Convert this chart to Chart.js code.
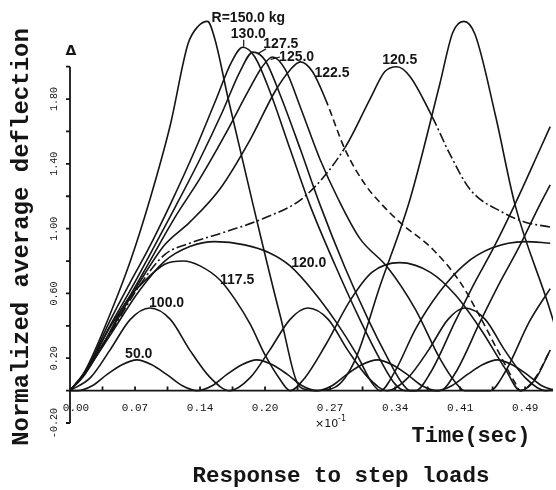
<!DOCTYPE html>
<html>
<head>
<meta charset="utf-8">
<script src="https://cdn.jsdelivr.net/npm/chart.js@4.4.1/dist/chart.umd.min.js"></script>
<style>
  html, body { margin: 0; padding: 0; background: #fff; }
  canvas { display: block; }
</style>
</head>
<body>
<canvas id="myChart" width="556" height="490" style="width:556px;height:490px"></canvas>
<script>
// [time (x10^-1 sec), normalized average deflection]
const r150 = [[0,0],[0.016,0.12],[0.043,0.47],[0.065,0.80],[0.086,1.18],[0.108,1.64],[0.127,2.14],[0.138,2.25],[0.148,2.28],[0.156,2.17],[0.170,1.81],[0.197,1.15],[0.226,0.47],[0.248,0.02],[0.264,0],[0.285,0.02],[0.307,0.19],[0.334,0.65],[0.366,1.18],[0.398,1.89],[0.412,2.21],[0.424,2.28],[0.436,2.20],[0.458,1.70],[0.479,1.15],[0.515,0.53],[0.523,0.38]];
const r130 = [[0,0],[0.016,0.11],[0.043,0.43],[0.065,0.67],[0.084,0.87],[0.108,1.15],[0.135,1.49],[0.156,1.78],[0.174,2.03],[0.186,2.12],[0.199,2.06],[0.215,1.85],[0.237,1.49],[0.258,1.15],[0.285,0.78],[0.312,0.44],[0.334,0.19],[0.350,0.04],[0.361,0],[0.372,0],[0.388,0.11],[0.415,0.43],[0.436,0.67],[0.455,0.87],[0.479,1.15],[0.506,1.49],[0.517,1.63]];
const r127 = [[0,0],[0.016,0.11],[0.043,0.40],[0.065,0.62],[0.086,0.84],[0.113,1.13],[0.140,1.43],[0.164,1.72],[0.183,1.97],[0.197,2.09],[0.210,2.04],[0.226,1.83],[0.248,1.49],[0.269,1.15],[0.296,0.76],[0.321,0.44],[0.342,0.20],[0.357,0.05],[0.366,0],[0.398,0],[0.415,0.11],[0.442,0.43],[0.463,0.67],[0.482,0.87],[0.506,1.15],[0.517,1.27]];
const r125 = [[0,0],[0.016,0.11],[0.043,0.39],[0.065,0.59],[0.086,0.80],[0.113,1.07],[0.140,1.31],[0.167,1.58],[0.192,1.85],[0.207,2.00],[0.218,2.06],[0.232,1.98],[0.248,1.75],[0.269,1.43],[0.289,1.18],[0.312,0.94],[0.342,0.76],[0.372,0.50],[0.398,0.20],[0.415,0.05],[0.425,0],[0.452,0],[0.468,0.11],[0.495,0.43],[0.517,0.63]];
const r122 = [[0,0],[0.016,0.11],[0.043,0.36],[0.075,0.67],[0.102,0.90],[0.129,1.04],[0.162,1.25],[0.194,1.55],[0.221,1.85],[0.237,1.98],[0.248,2.03],[0.261,1.97],[0.275,1.80],[0.296,1.49],[0.318,1.27],[0.334,1.16],[0.355,1.04],[0.391,0.87],[0.420,0.67],[0.442,0.45],[0.463,0.22],[0.479,0.05],[0.485,0],[0.501,0.08],[0.517,0.25]];
const r1205 = [[0,0],[0.016,0.11],[0.043,0.35],[0.075,0.65],[0.102,0.84],[0.129,0.91],[0.167,0.98],[0.207,1.06],[0.253,1.20],[0.296,1.50],[0.323,1.80],[0.339,1.97],[0.352,2.00],[0.366,1.94],[0.390,1.69],[0.409,1.46],[0.431,1.24],[0.466,1.10],[0.490,1.04],[0.517,1.01]];
const r120 = [[0,0],[0.016,0.11],[0.043,0.34],[0.075,0.62],[0.102,0.80],[0.129,0.89],[0.156,0.92],[0.188,0.90],[0.215,0.85],[0.237,0.77],[0.261,0.62],[0.287,0.42],[0.308,0.23],[0.326,0.04],[0.334,0],[0.350,0.12],[0.372,0.38],[0.398,0.61],[0.425,0.78],[0.454,0.88],[0.490,0.92],[0.517,0.91]];
const r117 = [[0,0],[0.016,0.10],[0.038,0.31],[0.062,0.56],[0.079,0.67],[0.102,0.78],[0.122,0.80],[0.140,0.77],[0.162,0.68],[0.178,0.56],[0.194,0.41],[0.210,0.22],[0.226,0.07],[0.237,0],[0.253,0.08],[0.275,0.28],[0.302,0.56],[0.325,0.73],[0.355,0.79],[0.388,0.73],[0.415,0.59],[0.442,0.38],[0.468,0.14],[0.485,0],[0.501,0.07],[0.517,0.25]];
const r100 = [[0,0],[0.022,0.08],[0.043,0.25],[0.065,0.44],[0.086,0.51],[0.108,0.44],[0.129,0.25],[0.151,0.08],[0.172,0],[0.194,0.08],[0.215,0.25],[0.237,0.44],[0.256,0.51],[0.278,0.44],[0.299,0.25],[0.321,0.08],[0.342,0],[0.364,0.08],[0.386,0.25],[0.407,0.44],[0.425,0.51],[0.447,0.44],[0.468,0.25],[0.490,0.08],[0.512,0],[0.523,0.01]];
const r50 = [[0,0],[0.008,0],[0.024,0.03],[0.040,0.10],[0.056,0.16],[0.072,0.19],[0.088,0.16],[0.104,0.10],[0.121,0.03],[0.137,0],[0.153,0.03],[0.169,0.10],[0.185,0.16],[0.201,0.19],[0.218,0.16],[0.234,0.10],[0.250,0.03],[0.266,0],[0.282,0.03],[0.298,0.10],[0.314,0.16],[0.331,0.19],[0.347,0.16],[0.363,0.10],[0.379,0.03],[0.395,0],[0.411,0.03],[0.428,0.10],[0.444,0.16],[0.460,0.19],[0.476,0.16],[0.492,0.10],[0.508,0.03],[0.523,0]];

// curve labels: text, time, deflection
const curveLabels = [
  ['R=150.0 kg', 0.192, 2.30],
  ['130.0', 0.192, 2.20],
  ['127.5', 0.227, 2.14],
  ['125.0', 0.244, 2.06],
  ['122.5', 0.282, 1.96],
  ['120.5', 0.355, 2.04],
  ['117.5', 0.180, 0.685],
  ['120.0', 0.257, 0.79],
  ['100.0', 0.104, 0.543],
  ['50.0', 0.074, 0.228]
];
// small leader strokes next to the labels
const leaders = [
  [0.187, 2.167, 0.187, 2.123],
  [0.211, 2.11, 0.202, 2.08],
  [0.216, 2.045, 0.226, 2.06]
];

const xTickVals = [0,0.035,0.07,0.105,0.14,0.175,0.21,0.245,0.28,0.315,0.35,0.385,0.42,0.455,0.49];
const xLabelVals = [0,0.07,0.14,0.21,0.28,0.35,0.42,0.49];
const xLabels = ['0.00','0.07','0.14','0.20','0.27','0.34','0.41','0.49'];
const yTickVals = [-0.2,0,0.2,0.4,0.6,0.8,1.0,1.2,1.4,1.6,1.8,2.0];
const yLabelVals = [-0.2,0.2,0.6,1.0,1.4,1.8];
const yLabels = ['-0.20','0.20','0.60','1.00','1.40','1.80'];

const ink = '#151515';

function series(pts, extra) {
  return Object.assign({
    data: pts.map(function(p) { return {x: p[0], y: p[1]}; }),
    borderColor: ink,
    borderWidth: 1.6,
    pointRadius: 0,
    fill: false,
    cubicInterpolationMode: 'monotone'
  }, extra || {});
}

const decor = {
  id: 'decor',
  afterDatasetsDraw(chart) {
    const ctx = chart.ctx;
    const xs = chart.scales.x, ys = chart.scales.y;
    const x0 = xs.getPixelForValue(0), y0 = ys.getPixelForValue(0);
    ctx.save();
    ctx.strokeStyle = ink;
    ctx.fillStyle = ink;
    ctx.lineWidth = 1.8;

    // y axis
    ctx.beginPath();
    ctx.moveTo(x0, ys.getPixelForValue(-0.2));
    ctx.lineTo(x0, ys.getPixelForValue(2.0));
    yTickVals.forEach(function(v) {
      const py = ys.getPixelForValue(v);
      ctx.moveTo(x0 - 4, py);
      ctx.lineTo(x0, py);
    });
    // x axis
    ctx.moveTo(x0, y0);
    ctx.lineTo(chart.chartArea.right, y0);
    xTickVals.forEach(function(v) {
      const px = xs.getPixelForValue(v);
      ctx.moveTo(px, y0 - 4);
      ctx.lineTo(px, y0 + 1);
    });
    ctx.stroke();

    // y tick labels, rotated
    ctx.font = '10px "Liberation Mono"';
    ctx.textAlign = 'center';
    ctx.textBaseline = 'middle';
    yLabelVals.forEach(function(v, i) {
      ctx.save();
      ctx.translate(x0 - 16, ys.getPixelForValue(v));
      ctx.rotate(-Math.PI / 2);
      ctx.fillText(yLabels[i], 0, 0);
      ctx.restore();
    });

    // x tick labels
    ctx.font = '11px "Liberation Mono"';
    xLabelVals.forEach(function(v, i) {
      ctx.fillText(xLabels[i], xs.getPixelForValue(v) + (i === 0 ? 6 : 0), y0 + 17);
    });

    // x10^-1
    ctx.textAlign = 'left';
    ctx.textBaseline = 'alphabetic';
    const mx = xs.getPixelForValue(0.28) - 15;
    ctx.font = '11px "DejaVu Sans"';
    ctx.fillText('\u00d710', mx, y0 + 36);
    ctx.font = '8px "DejaVu Sans"';
    ctx.fillText('-1', mx + 23, y0 + 30);

    // delta at axis top
    ctx.font = 'bold 14px "DejaVu Sans"';
    ctx.textAlign = 'center';
    ctx.textBaseline = 'middle';
    ctx.fillText('\u0394', x0 + 1, ys.getPixelForValue(2.0) - 15);

    // curve labels
    ctx.font = 'bold 14px "Liberation Sans"';
    curveLabels.forEach(function(l) {
      ctx.fillText(l[0], xs.getPixelForValue(l[1]), ys.getPixelForValue(l[2]));
    });
    ctx.lineWidth = 1.2;
    ctx.beginPath();
    leaders.forEach(function(s) {
      ctx.moveTo(xs.getPixelForValue(s[0]), ys.getPixelForValue(s[1]));
      ctx.lineTo(xs.getPixelForValue(s[2]), ys.getPixelForValue(s[3]));
    });
    ctx.stroke();

    // titles
    ctx.font = 'bold 24px "Liberation Mono"';
    ctx.save();
    ctx.translate(22, 237);
    ctx.rotate(-Math.PI / 2);
    ctx.fillText('Normalized average deflection', 0, 0);
    ctx.restore();
    ctx.font = 'bold 22px "Liberation Mono"';
    ctx.fillText('Time(sec)', 471, 436);
    ctx.font = 'bold 22.5px "Liberation Mono"';
    ctx.fillText('Response to step loads', 341, 476);
    ctx.restore();
  }
};

const ctx = document.getElementById('myChart').getContext('2d');
const config = {
  type: 'line',
  data: {
    datasets: [
      series(r150),
      series(r130),
      series(r127),
      series(r125),
      series(r122, {segment: {borderDash: function(c) { return c.p0.parsed.x > 0.27 ? [7, 4] : undefined; }}}),
      series(r1205, {segment: {borderDash: function(c) { return (c.p0.parsed.x < 0.28 || c.p0.parsed.x > 0.37) ? [10, 3, 2, 3] : undefined; }}}),
      series(r120),
      series(r117),
      series(r100),
      series(r50)
    ]
  },
  options: {
    responsive: false,
    animation: false,
    devicePixelRatio: 1,
    layout: { padding: { left: 70, right: 3, top: 10, bottom: 67 } },
    plugins: { legend: { display: false }, tooltip: { enabled: false } },
    scales: {
      x: { type: 'linear', min: 0, max: 0.52, display: false },
      y: { type: 'linear', min: -0.2, max: 2.35, display: false }
    }
  },
  plugins: [decor]
};
const myChart = new Chart(ctx, config);
</script>
</body>
</html>
